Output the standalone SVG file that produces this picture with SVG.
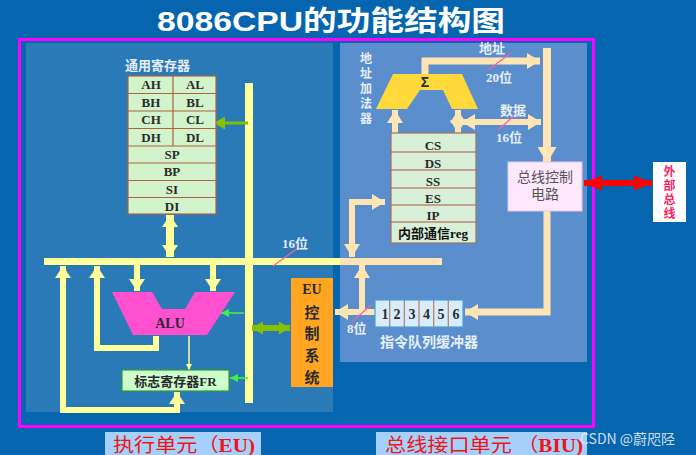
<svg xmlns="http://www.w3.org/2000/svg" width="696" height="455" viewBox="0 0 696 455">
<style>
.cjk{font-family:"Liberation Serif","Noto Sans CJK SC",serif;font-weight:bold}
.reg{font-family:"Liberation Serif","Noto Sans CJK SC",serif;font-weight:bold;font-size:13px;fill:#2a2a2a;text-anchor:middle}
.lt{font-family:"Noto Sans CJK SC","Liberation Sans",sans-serif;font-size:13px;fill:#e6eef8;font-weight:bold}
.vt{writing-mode:vertical-rl;text-orientation:upright}
.y{stroke:#ffff9c;fill:none}
.c{stroke:#ffe5b4;fill:none}
.pk{stroke:#ff5fa0;stroke-width:1.2}
</style>
<defs>
<marker id="yh" markerUnits="userSpaceOnUse" markerWidth="12" markerHeight="16" viewBox="0 0 12 16" refX="12" refY="8" orient="auto-start-reverse"><path d="M0,0L12,8L0,16z" fill="#ffff9c"/></marker>
<marker id="ch" markerUnits="userSpaceOnUse" markerWidth="13" markerHeight="16" viewBox="0 0 13 16" refX="13" refY="8" orient="auto-start-reverse"><path d="M0,0L13,8L0,16z" fill="#ffe5b4"/></marker>
<marker id="chb" markerUnits="userSpaceOnUse" markerWidth="16" markerHeight="19" viewBox="0 0 16 19" refX="16" refY="9.5" orient="auto-start-reverse"><path d="M0,0L16,9.5L0,19z" fill="#ffe5b4"/></marker>
<marker id="gh" markerUnits="userSpaceOnUse" markerWidth="8" markerHeight="8" viewBox="0 0 8 8" refX="8" refY="4" orient="auto-start-reverse"><path d="M0,0L8,4L0,8z" fill="#44ee44"/></marker>
<marker id="lg" markerUnits="userSpaceOnUse" markerWidth="11" markerHeight="13" viewBox="0 0 11 13" refX="11" refY="6.5" orient="auto-start-reverse"><path d="M0,0L11,6.5L0,13z" fill="#88c000"/></marker>
<marker id="th" markerUnits="userSpaceOnUse" markerWidth="6" markerHeight="6" viewBox="0 0 6 6" refX="6" refY="3" orient="auto-start-reverse"><path d="M0,0L6,3L0,6z" fill="#ffff9c"/></marker>
<marker id="rh" markerUnits="userSpaceOnUse" markerWidth="18" markerHeight="15" viewBox="0 0 18 15" refX="18" refY="7.5" orient="auto-start-reverse"><path d="M0,0L18,7.5L0,15z" fill="#ff0000"/></marker>
</defs>
<rect x="0" y="0" width="696" height="455" fill="#0565ae"/>
<text x="157" y="31" textLength="348" lengthAdjust="spacingAndGlyphs" style="font-family:'Liberation Sans','Noto Sans CJK SC',sans-serif;font-weight:bold;font-size:28px" fill="#ffffff">8086CPU的功能结构图</text>
<rect x="26" y="43" width="307" height="369" fill="#2a7ab7"/>
<rect x="340" y="43" width="247" height="319" fill="#5b8ecc"/>
<rect x="19.5" y="39.5" width="574" height="387" fill="none" stroke="#ff00ff" stroke-width="3"/>

<g id="connectors">
<rect x="245" y="83" width="8" height="320" fill="#ffff9c"/>
<rect x="44" y="258" width="296" height="7" fill="#ffff9c"/>
<rect x="340" y="258" width="102" height="7" fill="#ffe5b4"/>
<line x1="170" y1="215" x2="170" y2="257" class="y" stroke-width="8" marker-start="url(#yh)" marker-end="url(#yh)"/>
<path d="M177,392L177,410L63,410L63,266" class="y" stroke-width="6" marker-start="url(#yh)" marker-end="url(#yh)"/>
<path d="M156,336L156,348L97,348L97,266" class="y" stroke-width="6" marker-end="url(#yh)"/>
<line x1="137" y1="265" x2="137" y2="291" class="y" stroke-width="6" marker-end="url(#yh)"/>
<line x1="213" y1="265" x2="213" y2="291" class="y" stroke-width="6" marker-end="url(#yh)"/>
<line x1="244" y1="313" x2="221" y2="313" stroke="#44ee44" stroke-width="1.6" marker-end="url(#gh)"/>
<line x1="248" y1="378" x2="230" y2="378" stroke="#44ee44" stroke-width="1.6" marker-end="url(#gh)"/>
<line x1="189" y1="336" x2="189" y2="370" stroke="#ffff9c" stroke-width="1.5" marker-end="url(#th)"/>
<line x1="252" y1="328" x2="290" y2="328" stroke="#88c000" stroke-width="6" marker-start="url(#lg)" marker-end="url(#lg)"/>
<line x1="248" y1="123" x2="214" y2="123" stroke="#80c000" stroke-width="3" marker-end="url(#lg)"/>
<line x1="273" y1="266" x2="298" y2="248" class="pk"/>
<path d="M425,74L425,61L540,61" class="c" stroke-width="7" marker-end="url(#ch)"/>
<line x1="547" y1="48" x2="547" y2="163" class="c" stroke-width="8" marker-end="url(#chb)"/>
<line x1="462" y1="122" x2="541" y2="122" class="c" stroke-width="6" marker-start="url(#ch)" marker-end="url(#ch)"/>
<line x1="458" y1="110" x2="458" y2="133" class="c" stroke-width="6" marker-start="url(#ch)" marker-end="url(#ch)"/>
<line x1="395" y1="133" x2="395" y2="110" class="c" stroke-width="6" marker-end="url(#ch)"/>
<path d="M385,202L352,202L352,257" class="c" stroke-width="6" marker-start="url(#ch)" marker-end="url(#ch)"/>
<path d="M375,312L335,312" class="c" stroke-width="6" marker-end="url(#ch)"/>
<line x1="362" y1="312" x2="362" y2="265" class="c" stroke-width="6" marker-end="url(#ch)"/>
<path d="M547,211L547,312L465,312" class="c" stroke-width="7" marker-end="url(#ch)"/>
<line x1="584" y1="183" x2="652" y2="183" stroke="#ff0000" stroke-width="6" marker-start="url(#rh)" marker-end="url(#rh)"/>
<line x1="488" y1="70" x2="511" y2="53" class="pk"/>
<line x1="498" y1="130" x2="516" y2="114" class="pk"/>
<line x1="352" y1="322" x2="371" y2="305" class="pk"/>
</g>

<g id="gpr">
<text x="125" y="70" class="lt">通用寄存器</text>
<rect x="128" y="76" width="88" height="138" fill="#d2f4cc" stroke="#b06040" stroke-width="1.2"/>
<g stroke="#b06040" stroke-width="1.2">
<line x1="128" y1="93.5" x2="216" y2="93.5"/><line x1="128" y1="111" x2="216" y2="111"/><line x1="128" y1="128.5" x2="216" y2="128.5"/><line x1="128" y1="146" x2="216" y2="146"/><line x1="128" y1="163" x2="216" y2="163"/><line x1="128" y1="180.5" x2="216" y2="180.5"/><line x1="128" y1="197.5" x2="216" y2="197.5"/><line x1="173" y1="76" x2="173" y2="146"/>
</g>
<text x="151" y="89" class="reg">AH</text><text x="195" y="89" class="reg">AL</text>
<text x="151" y="107" class="reg">BH</text><text x="195" y="107" class="reg">BL</text>
<text x="151" y="124" class="reg">CH</text><text x="195" y="124" class="reg">CL</text>
<text x="151" y="142" class="reg">DH</text><text x="195" y="142" class="reg">DL</text>
<text x="172" y="159" class="reg">SP</text>
<text x="172" y="176" class="reg">BP</text>
<text x="172" y="194" class="reg">SI</text>
<text x="172" y="211" class="reg">DI</text>
</g>

<g id="alu">
<polygon points="112,292 152,292 162,309 185,309 195,292 235,292 207,335 133,335" fill="#ff50cf"/>
<text x="170" y="328" class="reg" style="font-size:14px">ALU</text>
</g>

<g id="fr">
<rect x="122" y="370" width="107" height="21" fill="#ccffcc" stroke="#339933" stroke-width="1.2"/>
<text x="175.5" y="386" class="reg" style="font-size:13px">标志寄存器FR</text>
</g>

<g id="euctrl">
<rect x="291" y="278" width="42" height="109" fill="#ffa522"/>
<text x="312" y="294" class="reg" style="font-size:14px">EU</text>
<text x="312" y="318" class="reg" style="font-size:15px">控</text>
<text x="312" y="339" class="reg" style="font-size:15px">制</text>
<text x="312" y="361" class="reg" style="font-size:15px">系</text>
<text x="312" y="383" class="reg" style="font-size:15px">统</text>
</g>
<text x="282" y="248" class="lt" style="font-family:'Liberation Serif','Noto Sans CJK SC',serif">16位</text>

<g id="adder">
<text x="366" y="52" class="lt vt" style="font-size:12px;letter-spacing:3px">地址加法器</text>
<polygon points="393,74 462,74 478,109 452,109 443,90 420,90 407,109 376,109" fill="#ffd83a"/>
<text x="425" y="87" class="reg" style="font-size:14px;font-family:'Liberation Sans',sans-serif">Σ</text>
</g>
<g id="labels-biu" class="lt" style="font-family:'Liberation Serif','Noto Sans CJK SC',serif">
<text x="479" y="53">地址</text>
<text x="486" y="82">20位</text>
<text x="500" y="115">数据</text>
<text x="496" y="142">16位</text>
<text x="347" y="333">8位</text>
</g>

<g id="segregs">
<rect x="391" y="133" width="85" height="110" fill="#d8efd8" stroke="#a07060" stroke-width="1.2"/>
<g stroke="#b05545" stroke-width="1.2">
<line x1="391" y1="152" x2="476" y2="152"/><line x1="391" y1="170" x2="476" y2="170"/><line x1="391" y1="188" x2="476" y2="188"/><line x1="391" y1="205" x2="476" y2="205"/><line x1="391" y1="222" x2="476" y2="222"/>
</g>
<text x="433" y="150" class="reg">CS</text>
<text x="433" y="168" class="reg">DS</text>
<text x="433" y="186" class="reg">SS</text>
<text x="433" y="203" class="reg">ES</text>
<text x="433" y="220" class="reg">IP</text>
<text x="433" y="238" class="reg" style="fill:#111">内部通信reg</text>
</g>

<g id="queue">
<rect x="375" y="300" width="88" height="27" fill="#d8ecfc" stroke="#44a0e0" stroke-width="1.2"/>
<g stroke="#b08060" stroke-width="1.2">
<line x1="389.7" y1="300" x2="389.7" y2="327"/><line x1="404.3" y1="300" x2="404.3" y2="327"/><line x1="419" y1="300" x2="419" y2="327"/><line x1="433.7" y1="300" x2="433.7" y2="327"/><line x1="448.3" y1="300" x2="448.3" y2="327"/>
</g>
<g class="reg" style="font-size:14px">
<text x="385" y="319">1</text><text x="397" y="319">2</text><text x="412" y="319">3</text><text x="426.5" y="319">4</text><text x="441" y="319">5</text><text x="456" y="319">6</text>
</g>
<text x="380" y="347" class="lt" style="font-size:14px">指令队列缓冲器</text>
</g>

<g id="busctrl">
<rect x="508" y="162" width="74" height="49" fill="#fde8fd" stroke="#e8c8e8" stroke-width="1"/>
<text x="545" y="182" text-anchor="middle" style="font-family:'Liberation Sans','Noto Sans CJK SC',sans-serif;font-size:14px" fill="#555">总线控制</text>
<text x="545" y="199" text-anchor="middle" style="font-family:'Liberation Sans','Noto Sans CJK SC',sans-serif;font-size:14px" fill="#555">电路</text>
</g>

<g id="extbus">
<rect x="653" y="162" width="33" height="60" fill="#ffffff"/>
<text x="669.5" y="165" class="vt" style="font-family:'Noto Sans CJK SC',sans-serif;font-size:12px;font-weight:bold;letter-spacing:2px" fill="#ff2266">外部总线</text>
</g>

<g id="eu-label">
<rect x="105" y="432" width="156" height="23" fill="#a6d0fa"/>
<text x="113" y="452" textLength="142" lengthAdjust="spacingAndGlyphs" class="cjk" style="font-size:19px;font-weight:normal" fill="#ee1515">执行单元（<tspan font-weight="bold">EU)</tspan></text>
</g>
<g id="biu-label">
<rect x="376" y="432" width="211" height="23" fill="#a6d0fa"/>
<text x="385" y="452" textLength="198" lengthAdjust="spacingAndGlyphs" class="cjk" style="font-size:19px;font-weight:normal" fill="#ee1515">总线接口单元 （<tspan font-weight="bold">BIU)</tspan></text>
</g>
<text x="580" y="444" style="font-family:'Noto Sans CJK SC','Liberation Sans',sans-serif;font-size:14px" fill="#e8ecf4" fill-opacity="0.9">CSDN @蔚咫陉</text>
</svg>
